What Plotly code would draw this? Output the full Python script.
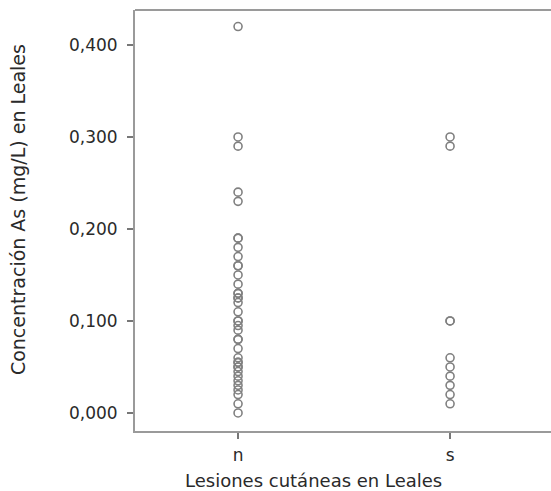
import plotly.graph_objects as go

categories = ["n", "s"]
n_values = [0.42, 0.30, 0.29, 0.24, 0.23, 0.19, 0.19, 0.18, 0.17, 0.16, 0.16, 0.15,
            0.14, 0.13, 0.13, 0.125, 0.125, 0.12, 0.11, 0.10, 0.10, 0.095, 0.09,
            0.08, 0.08, 0.07, 0.06, 0.055, 0.055, 0.05, 0.05, 0.045, 0.04, 0.035,
            0.03, 0.025, 0.02, 0.01, 0.0]
s_values = [0.30, 0.29, 0.10, 0.10, 0.06, 0.05, 0.04, 0.03, 0.02, 0.01]
y_ticks = [0.0, 0.1, 0.2, 0.3, 0.4]
x_title = "Lesiones cutáneas en Leales"
y_title = "Concentración As (mg/L) en Leales"

fig = go.Figure()
for cat, vals in zip(categories, [n_values, s_values]):
    fig.add_trace(go.Scatter(
        x=[cat] * len(vals), y=vals, mode="markers",
        marker=dict(symbol="circle-open", size=8, color="#808080",
                    line=dict(width=1.6, color="#808080")),
        showlegend=False, hoverinfo="skip"))

font = "DejaVu Sans, Verdana, sans-serif"
fig.update_layout(
    width=551, height=491,
    margin=dict(l=135, r=0, t=10, b=60),
    plot_bgcolor="white", paper_bgcolor="white",
    separators=",.",
    font=dict(family=font, size=16, color="#2a2a2a"),
    xaxis=dict(type="category", categoryorder="array", categoryarray=categories,
               range=[-0.486, 1.476], showgrid=False, zeroline=False,
               showline=True, linecolor="#9a9a9a", linewidth=2, mirror=False,
               ticks="outside", ticklen=6, tickwidth=2, tickcolor="#777",
               ticklabelstandoff=2,
               tickfont=dict(size=17, color="#2a2a2a")),
    yaxis=dict(range=[-0.0196, 0.438], tickvals=y_ticks, tickformat=".3f",
               showgrid=False, zeroline=False,
               showline=True, linecolor="#9a9a9a", linewidth=2,
               ticks="outside", ticklen=6, tickwidth=2, tickcolor="#777",
               ticklabelstandoff=6,
               tickfont=dict(size=17, color="#2a2a2a")),
    shapes=[dict(type="line", xref="paper", yref="paper", x0=0, x1=1.02, y0=1, y1=1,
                 line=dict(color="#9a9a9a", width=2))],
    annotations=[
        dict(text=x_title, xref="paper", yref="paper", x=0.428, y=-0.117,
             xanchor="center", yanchor="middle", showarrow=False,
             font=dict(size=18, color="#2a2a2a")),
        dict(text=y_title, xref="paper", yref="paper", x=-0.281, y=0.525,
             xanchor="center", yanchor="middle", showarrow=False, textangle=-90,
             font=dict(size=19, color="#2a2a2a")),
    ],
)

fig.write_html("out.html")
